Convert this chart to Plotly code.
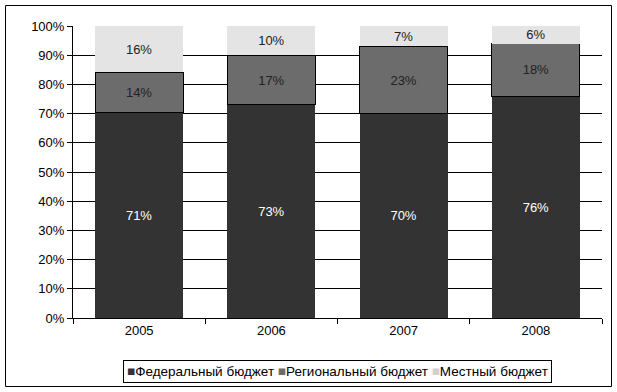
import plotly.graph_objects as go

years = ["2005", "2006", "2007", "2008"]
federal = [71, 73, 70, 76]
regional = [14, 17, 23, 18]
local = [16, 10, 7, 6]
series_names = ["Федеральный бюджет", "Региональный бюджет", "Местный бюджет"]
y_ticks = [0, 10, 20, 30, 40, 50, 60, 70, 80, 90, 100]
y_tick_labels = [f"{v}%" for v in y_ticks]

W, H = 617, 392
ML, MR, MT, MB = 73, 15, 26, 74
pw, ph = W - ML - MR, H - MT - MB

def px_x(x):
    return (x - ML) / pw

def px_y(y):
    return (H - MB - y) / ph

FONT = "Liberation Sans"
colors = ["#333333", "#6c6c6c", "#e4e4e4"]
lines = [dict(color="#333333", width=0), dict(color="black", width=1), dict(color="#e4e4e4", width=0)]
text_colors = ["white", "#222222", "#222222"]

fig = go.Figure()
for name, vals, col, ln, tc in zip(series_names, [federal, regional, local], colors, lines, text_colors):
    fig.add_trace(go.Bar(
        x=years, y=vals, name=name,
        text=[f"{v}%" for v in vals], texttemplate="%{text}",
        textposition="inside", insidetextanchor="middle", constraintext="none",
        textfont=dict(color=tc, size=13, family=FONT),
        marker=dict(color=col, line=ln),
        hoverinfo="skip", showlegend=False,
    ))

sym_colors = ["#333333", "#6c6c6c", "#d0d0d0"]
legend_text = " ".join(
    f"<span style='color:{c}'>■</span>{n}" for c, n in zip(sym_colors, series_names)
)

fig.update_layout(
    width=W, height=H,
    barmode="stack", barnorm="percent", bargap=0.335,
    plot_bgcolor="white", paper_bgcolor="white",
    margin=dict(l=ML, r=MR, t=MT, b=MB),
    font=dict(family=FONT, size=13, color="black"),
    showlegend=False,
    xaxis=dict(
        type="category", showline=True, linecolor="black", linewidth=1,
        ticks="outside", tickson="boundaries", ticklen=5, tickcolor="black",
        showgrid=False, tickfont=dict(size=13),
    ),
    yaxis=dict(
        range=[0, 100], tickvals=y_ticks, ticktext=y_tick_labels,
        showgrid=True, gridcolor="black", gridwidth=1,
        showline=True, linecolor="black", linewidth=1,
        ticks="outside", ticklen=5, tickcolor="black", zeroline=False,
        tickfont=dict(size=13),
    ),
    annotations=[dict(
        xref="paper", yref="paper", x=px_x(337.5), y=px_y(371),
        xanchor="center", yanchor="middle", showarrow=False,
        text=legend_text, font=dict(size=13.5, family=FONT, color="black"),
        bordercolor="black", borderwidth=1, borderpad=3, bgcolor="white",
    )],
    shapes=[dict(
        type="rect", xref="paper", yref="paper",
        x0=px_x(5.5), x1=px_x(611.5), y0=px_y(386.5), y1=px_y(5.5),
        line=dict(color="black", width=1), fillcolor="rgba(0,0,0,0)", layer="below",
    )],
)

fig.write_html(
    "out.html",
    config={"displayModeBar": False},
    post_script="document.body.style.margin='0';document.body.style.overflow='hidden';",
)
